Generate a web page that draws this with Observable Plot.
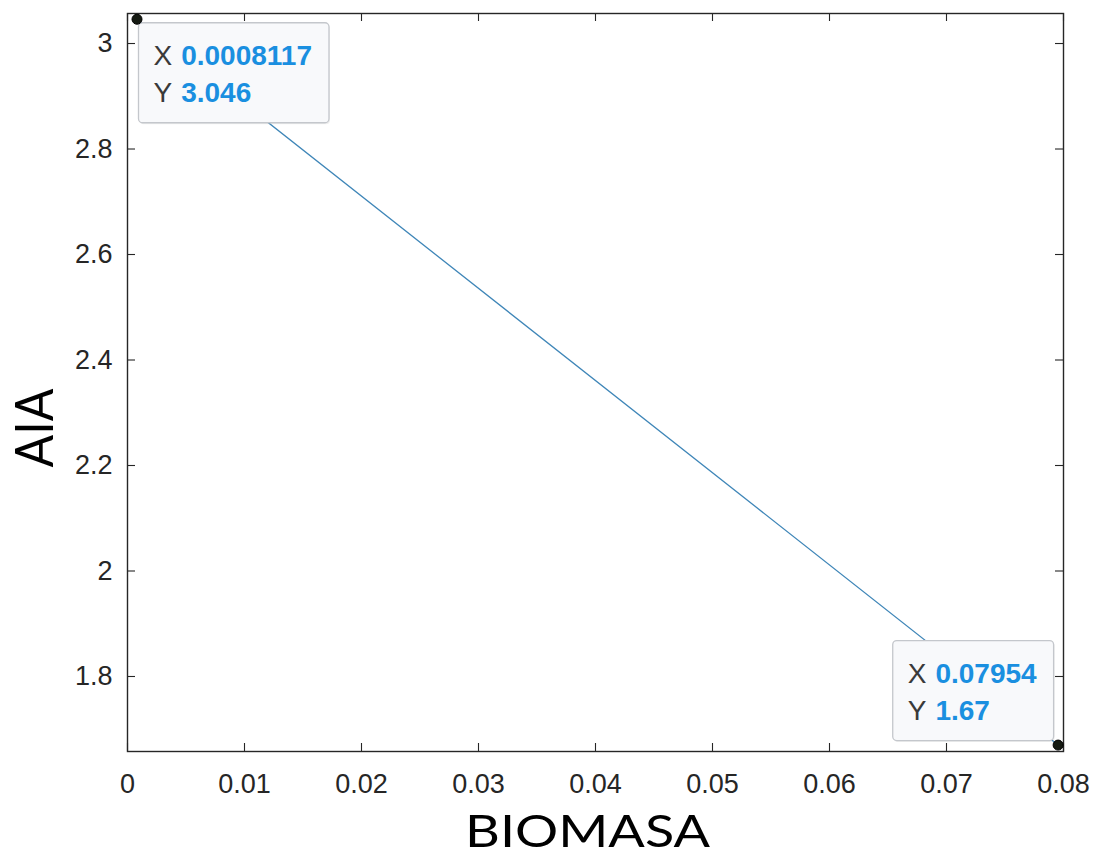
<!DOCTYPE html>
<html>
<head>
<meta charset="utf-8">
<script src="https://cdn.jsdelivr.net/npm/d3@7"></script>
<script src="https://cdn.jsdelivr.net/npm/@observablehq/plot@0.6"></script>
<style>
  html, body { margin: 0; padding: 0; background: #fff; }
  #chart svg { display: block; }
</style>
</head>
<body>
<div id="chart"></div>
<script>
// ---- data ----
const biomasa = [0.0008117, 0.07954];
const aia = [3.046, 1.67];
const tipX = ["0.0008117", "0.07954"];
const tipY = ["3.046", "1.67"];
const xTicks = [0, 0.01, 0.02, 0.03, 0.04, 0.05, 0.06, 0.07, 0.08];
const yTicks = [1.8, 2, 2.2, 2.4, 2.6, 2.8, 3];
const xLabel = "BIOMASA";
const yLabel = "AIA";

// ---- layout ----
const W = 1096, H = 859;
const mL = 127, mR = 33, mT = 13, mB = 108;
const innerW = W - mL - mR, innerH = H - mT - mB;
const tickLen = 8;
const ink = "#262626";
const sans = '"Liberation Sans", Arial, sans-serif';
const titleFont = 'Lato, "Open Sans", sans-serif';

const pts = biomasa.map((x, i) => ({x, y: aia[i], tx: tipX[i], ty: tipY[i]}));

function datatips(index, scales, values, dims) {
  const ctx = document.createElement("canvas").getContext("2d");
  const fs = 28;
  const g = d3.create("svg:g").attr("text-anchor", "start");
  const cx = dims.marginLeft + (dims.width - dims.marginLeft - dims.marginRight) / 2;
  const cy = dims.marginTop + (dims.height - dims.marginTop - dims.marginBottom) / 2;
  for (const d of pts) {
    const px = scales.x(d.x), py = scales.y(d.y);
    ctx.font = `${fs}px ${sans}`;
    const wl = Math.max(ctx.measureText("X").width, ctx.measureText("Y").width);
    ctx.font = `bold ${fs}px ${sans}`;
    const wv = Math.max(ctx.measureText(d.tx).width, ctx.measureText(d.ty).width);
    const padL = 15, gap = 9, padR = 17, h = 100;
    const w = padL + wl + gap + wv + padR;
    const bx = px < cx ? px + 2 : px - 4 - w;
    const by = py < cy ? py + 4 : py - 4 - h;
    g.append("rect")
      .attr("x", bx + 1).attr("y", by + 1.5).attr("width", w).attr("height", h)
      .attr("rx", 4).attr("fill", "#000").attr("fill-opacity", 0.06);
    g.append("rect")
      .attr("x", bx).attr("y", by).attr("width", w).attr("height", h)
      .attr("rx", 4).attr("fill", "#f8f9fb").attr("stroke", "#c4c7cc").attr("stroke-width", 1.3);
    const rows = [["X", d.tx, 42], ["Y", d.ty, 79]];
    for (const [lab, val, off] of rows) {
      g.append("text").attr("x", bx + padL).attr("y", by + off)
        .attr("font-size", fs).attr("fill", "#3a3a3a")
        .attr("font-family", sans).text(lab);
      g.append("text").attr("x", bx + padL + wl + gap).attr("y", by + off)
        .attr("font-size", fs).attr("font-weight", "bold").attr("fill", "#1a8fe0")
        .attr("font-family", sans).text(val);
    }
  }
  return g.node();
}

function axisTitles(index, scales, values, dims) {
  const g = d3.create("svg:g").attr("fill", "#000").attr("font-family", titleFont);
  const fx = dims.marginLeft + (dims.width - dims.marginLeft - dims.marginRight) / 2;
  const fy = dims.marginTop + (dims.height - dims.marginTop - dims.marginBottom) / 2;
  g.append("text")
    .attr("x", fx - 7.5).attr("y", dims.height - 12)
    .attr("text-anchor", "middle").attr("font-size", 44)
    .attr("textLength", 245).attr("lengthAdjust", "spacingAndGlyphs")
    .text(xLabel);
  g.append("text")
    .attr("transform", `translate(${dims.marginLeft - 74},${fy + 46}) rotate(-90)`)
    .attr("text-anchor", "middle").attr("font-size", 52)
    .attr("textLength", 79).attr("lengthAdjust", "spacingAndGlyphs")
    .text(yLabel);
  return g.node();
}

const fmt = d3.format("~g");

const chart = Plot.plot({
  width: W,
  height: H,
  marginLeft: mL,
  marginRight: mR,
  marginTop: mT,
  marginBottom: mB,
  style: {fontFamily: sans, background: "#fff", color: ink},
  x: {domain: [0, 0.08]},
  y: {domain: [1.6578, 3.0569]},
  marks: [
    Plot.line(pts, {x: "x", y: "y", stroke: "#3f86b8", strokeWidth: 1.3}),
    Plot.tickX(xTicks, {x: d => d, insetTop: innerH - tickLen, stroke: ink, strokeWidth: 1.1}),
    Plot.tickX(xTicks, {x: d => d, insetBottom: innerH - tickLen, stroke: ink, strokeWidth: 1.1}),
    Plot.tickY(yTicks, {y: d => d, insetRight: innerW - tickLen, stroke: ink, strokeWidth: 1.1}),
    Plot.tickY(yTicks, {y: d => d, insetLeft: innerW - tickLen, stroke: ink, strokeWidth: 1.1}),
    Plot.frame({stroke: ink, strokeWidth: 1.4}),
    Plot.axisX(xTicks, {tickSize: 0, tickPadding: 22, fontSize: 27, tickFormat: fmt, fill: ink, label: null}),
    Plot.axisY(yTicks, {tickSize: 0, tickPadding: 15, fontSize: 27, tickFormat: fmt, fill: ink, label: null}),
    axisTitles,
    datatips,
    Plot.dot(pts, {x: "x", y: "y", r: 5, fill: "#151a12", stroke: "#000", strokeWidth: 1})
  ]
});

document.getElementById("chart").append(chart);
</script>
</body>
</html>
